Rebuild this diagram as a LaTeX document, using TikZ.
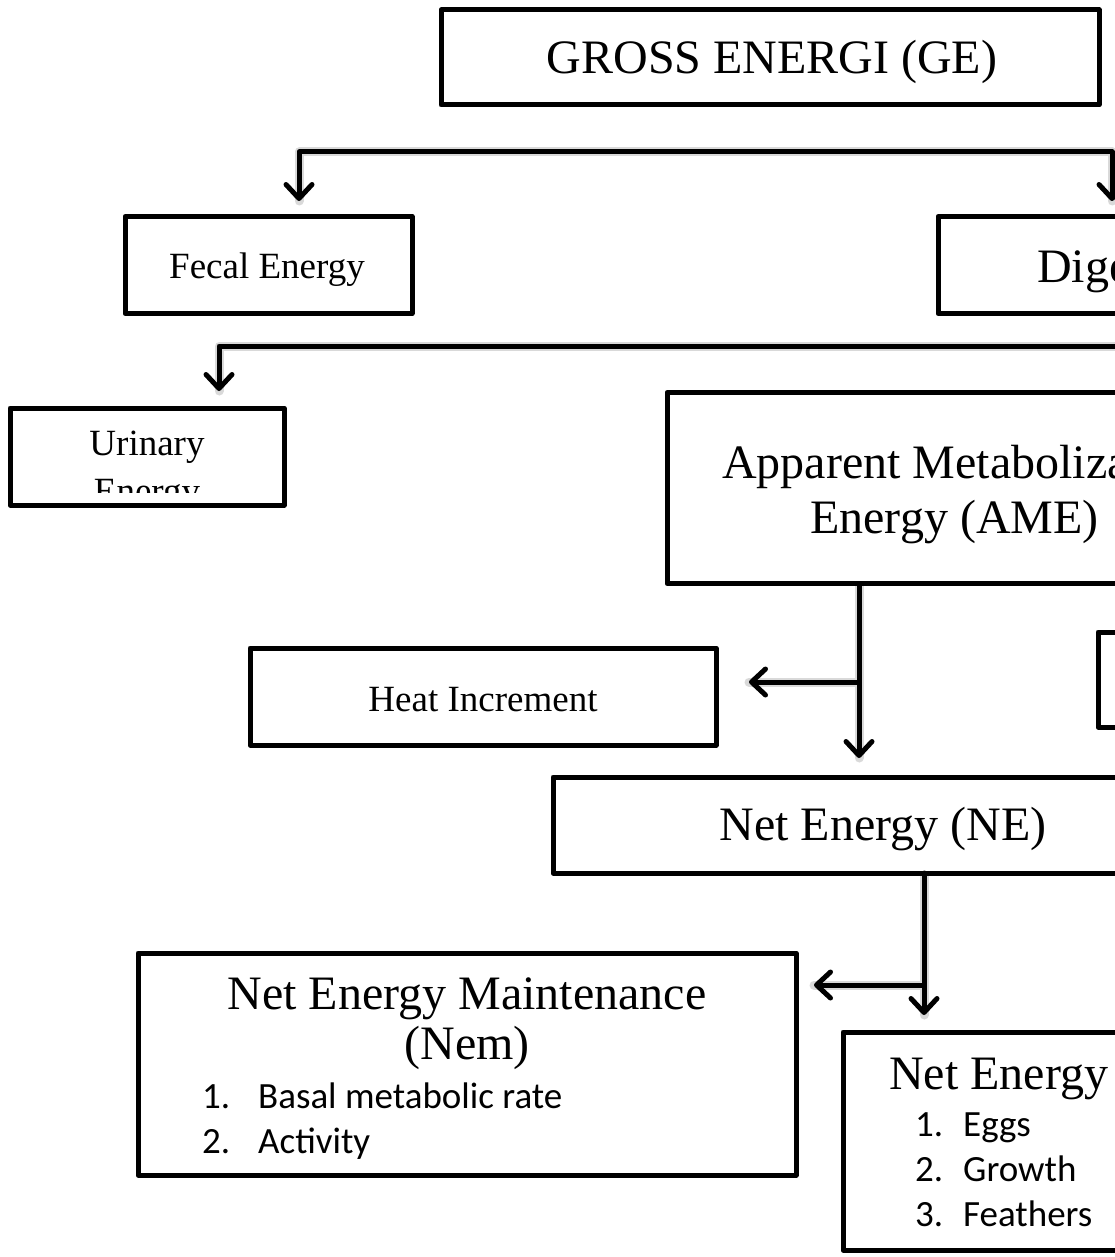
\documentclass[tikz,border=0pt]{standalone}
\usepackage{fontspec}
\setmainfont{Liberation Serif}
\newfontfamily\calib{Carlito}
\usetikzlibrary{arrows.meta}
\tikzset{
  box/.style={draw=black, line width=5pt, line join=round, fill=white, inner sep=0pt},
  conn/.style={draw=black, line width=5pt, line cap=round, line join=round},
  barb/.tip={Straight Barb[length=14pt, width=26pt, line width=5pt, line cap=round, line join=round]},
  arr/.style={conn, -barb},
  arrboth/.style={conn, barb-barb},
  shadowline/.style={draw=black!15, line width=9pt, line cap=round, line join=round},
  big/.style={font=\fontsize{48}{55}\selectfont},
  mid/.style={font=\fontsize{37}{44}\selectfont},
  lst/.style={font=\calib\fontsize{37}{44}\selectfont, anchor=base west, inner sep=0pt},
  txt/.style={inner sep=0pt},
}
\begin{document}
\begin{tikzpicture}[x=1pt, y=-1pt]
\useasboundingbox (0,0) rectangle (1115,1257);
\clip (0,0) rectangle (1115,1257);
\fill[white] (0,0) rectangle (1115,1257);

% ---------- coordinates of connector bends and free ends ----------
\coordinate (t1) at (299,201);
\coordinate (t2) at (299,152);
\coordinate (t3) at (1112,152);
\coordinate (t4) at (1112,201);
\coordinate (u0) at (1140,346);
\coordinate (u1) at (219,346);
\coordinate (u2) at (219,391);
\coordinate (a0) at (859,585);
\coordinate (a1) at (859,682);
\coordinate (a2) at (749,682);
\coordinate (a3) at (859,758);
\coordinate (n0) at (924,873);
\coordinate (n1) at (924,985);
\coordinate (n2) at (814,985);
\coordinate (n3) at (924,1015);

% ---------- shadows of connectors ----------
\begin{scope}[shift={(2,4)}]
\draw[shadowline] (t1) -- (t2) -- (t3) -- (t4);
\draw[shadowline] (u0) -- (u1) -- (u2);
\draw[shadowline] (a0) -- (a3);
\draw[shadowline] (a1) -- (a2);
\draw[shadowline] (n0) -- (n3);
\draw[shadowline] (n1) -- (n2);
\end{scope}

% ---------- boxes ----------
\node[box, minimum width=658pt, minimum height=95pt] (ge) at (770,57.5) {};
\node[txt, big, anchor=base] (get) at (772,74) {GROSS ENERGI (GE)};

\node[box, minimum width=287pt, minimum height=97pt] (fecal) at (268.5,265) {};
\node[txt, mid, anchor=base] (fecalt) at (267,278) {Fecal Energy};

\node[box, minimum width=400pt, minimum height=97pt] (dig) at (1138,265) {};
\node[txt, big, anchor=base west] (digt) at (1037,282) {Dige};

\node[box, minimum width=274pt, minimum height=97pt] (uri) at (147,456.5) {};
\begin{scope}
\clip (14,412) rectangle (280,492);
\node[txt, mid, anchor=base] (urit1) at (147,455) {Urinary};
\node[txt, mid, anchor=base] (urit2) at (147,503) {Energy};
\end{scope}

\node[box, minimum width=580pt, minimum height=191pt] (ame) at (957,488) {};
\node[txt, big, anchor=base west] (amet1) at (722,478) {Apparent Metaboliza};
\node[txt, big, anchor=base] (amet2) at (954.5,533) {Energy (AME)};

\node[box, minimum width=200pt, minimum height=95pt] (side) at (1198,679.5) {};

\node[box, minimum width=466pt, minimum height=97pt] (heat) at (483,696.5) {};
\node[txt, mid, anchor=base] (heatt) at (483,711) {Heat Increment};

\node[box, minimum width=660pt, minimum height=96pt] (ne) at (883,825) {};
\node[txt, big, anchor=base] (net) at (883,840) {Net Energy (NE)};

\node[box, minimum width=658pt, minimum height=222pt] (nem) at (467,1064) {};
\node[txt, big, anchor=base] (nemt1) at (467,1009) {Net Energy Maintenance};
\node[txt, big, anchor=base] (nemt2) at (467,1059) {(Nem)};
\node[lst] (nem1n) at (202,1108) {1.};
\node[lst] (nem1) at (258,1108) {Basal metabolic rate};
\node[lst] (nem2n) at (202,1153) {2.};
\node[lst] (nem2) at (258,1153) {Activity};

\node[box, minimum width=460pt, minimum height=218pt] (nep) at (1073,1141) {};
\node[txt, big, anchor=base west] (nept) at (889,1089) {Net Energy};
\node[lst] (nep1n) at (915,1136) {1.};
\node[lst] (nep1) at (963,1136) {Eggs};
\node[lst] (nep2n) at (915,1181) {2.};
\node[lst] (nep2) at (963,1181) {Growth};
\node[lst] (nep3n) at (915,1226) {3.};
\node[lst] (nep3) at (963,1226) {Feathers};

% ---------- connectors ----------
\draw[arrboth] (t1) -- (t2) -- (t3) -- (t4);
\draw[arr] (u0) -- (u1) -- (u2);
\draw[arr] (a0) -- (a3);
\draw[arr] (a1) -- (a2);
\draw[arr] (n0) -- (n3);
\draw[arr] (n1) -- (n2);
\end{tikzpicture}
\end{document}
